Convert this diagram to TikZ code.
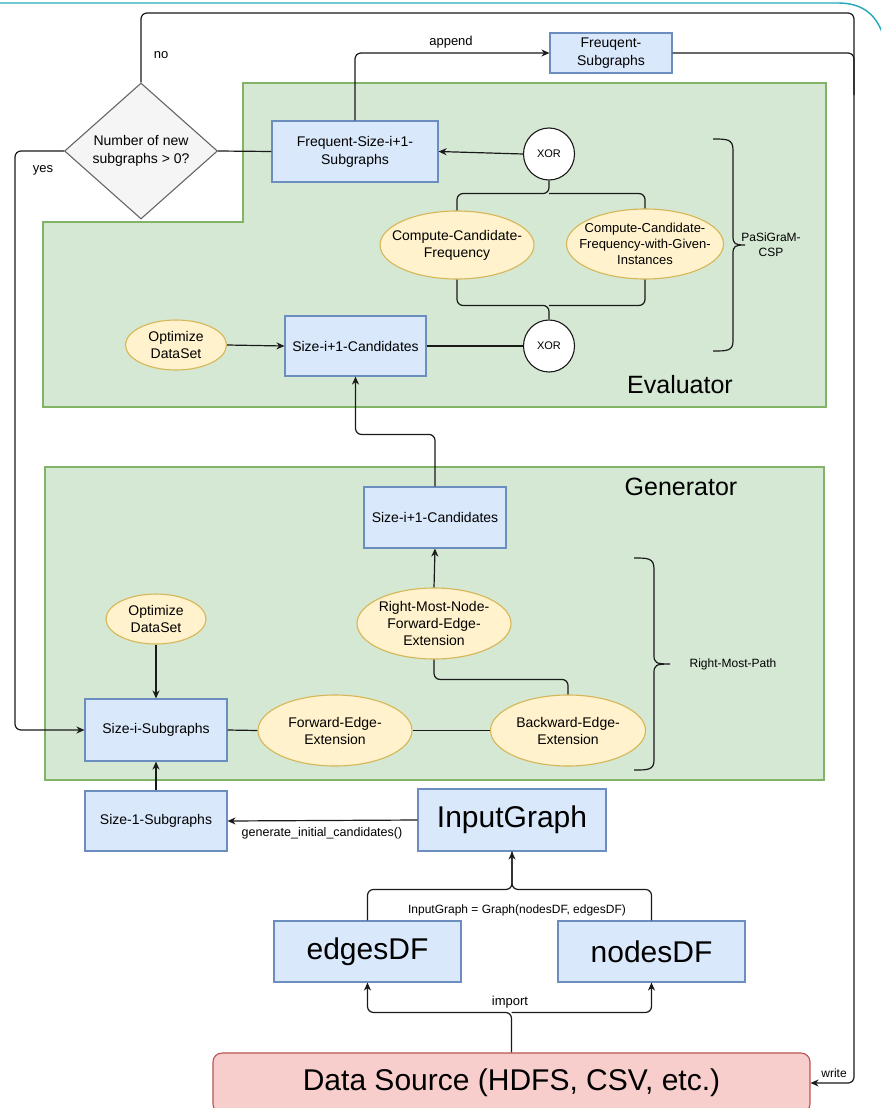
\documentclass[tikz,border=0pt]{standalone}
\usepackage{fontspec}
\setmainfont{Liberation Sans}
\usetikzlibrary{shapes.geometric,arrows.meta,calc}

\definecolor{bluefill}{HTML}{DAE8FC}
\definecolor{bluedraw}{HTML}{6C8EBF}
\definecolor{yelfill}{HTML}{FFF2CC}
\definecolor{yeldraw}{HTML}{D6B656}
\definecolor{grnfill}{HTML}{D5E8D4}
\definecolor{grndraw}{HTML}{82B366}
\definecolor{redfill}{HTML}{F8CECC}
\definecolor{reddraw}{HTML}{B85450}
\definecolor{grayfill}{HTML}{F5F5F5}
\definecolor{graydraw}{HTML}{666666}
\definecolor{tealline}{HTML}{22A9BA}
\definecolor{inkline}{HTML}{1A1A1A}

\tikzset{
  bluebox/.style={rectangle, draw=bluedraw, fill=bluefill, line width=1.1pt,
    inner sep=0pt, align=center, font=\fontsize{14}{18}\selectfont},
  % the ellipse keeps its given size: the negative inner sep stops the text from enlarging it
  yelell/.style={ellipse, draw=yeldraw, fill=yelfill, line width=1.1pt,
    inner xsep=-45pt, inner ysep=-30pt, align=center, font=\fontsize{14}{17}\selectfont},
  xorell/.style={ellipse, draw=inkline, fill=white, line width=1.1pt,
    inner sep=0pt, minimum width=51pt, minimum height=52pt,
    font=\fontsize{11}{13}\selectfont},
  region/.style={draw=grndraw, fill=grnfill, line width=1.1pt},
  link/.style={draw=inkline, line width=1.2pt, rounded corners=6pt},
  arr/.style={link, -{Stealth[length=8pt,width=7pt,inset=2.5pt]}},
  lbl/.style={inner sep=0pt, align=center, font=\fontsize{12.5}{15}\selectfont},
  brc/.style={draw=inkline, line width=1.2pt},
}

\begin{document}
\begin{tikzpicture}[x=1pt, y=-1pt]
\useasboundingbox (0,0) rectangle (881,1108);
\clip (0,0) rectangle (881,1108);
\fill[white] (0,0) rectangle (881,1108);

% window frame line along the top
\draw[tealline, line width=1.4pt] (-5,3) -- (838,3) .. controls (862,3) and (877,14) .. (884,38);

% stage regions
\path[region] (243,83) -- (826,83) -- (826,407) -- (43,407) -- (43,222) -- (243,222) -- cycle;
\path[region] (45,467) rectangle (824,780);
\node[lbl, font=\fontsize{25}{30}\selectfont] (evallbl) at (680,385) {Evaluator};
\node[lbl, font=\fontsize{25}{30}\selectfont] (genlbl) at (681,487) {Generator};

% decision
\node[diamond, draw=graydraw, fill=grayfill, line width=1.1pt, inner sep=0pt,
      minimum width=153pt, minimum height=136pt, align=center,
      font=\fontsize{14}{18}\selectfont] (dec) at (141,151) {Number of new\\subgraphs > 0?};

% evaluator
\node[bluebox, minimum width=166pt, minimum height=61pt] (fs1) at (355,151.5) {Frequent-Size-i+1-\\Subgraphs};
\node[bluebox, minimum width=122pt, minimum height=40pt] (fsg) at (611,53) {Freuqent-\\Subgraphs};
\node[xorell] (xor1) at (549,154) {XOR};
\node[xorell] (xor2) at (549,346) {XOR};
\node[yelell, minimum width=154pt, minimum height=68pt] (cc1) at (457,245) {Compute-Candidate-\\Frequency};
\node[yelell, minimum width=157pt, minimum height=70pt, font=\fontsize{13}{16}\selectfont] (cc2) at (645,244) {Compute-Candidate-\\Frequency-with-Given-\\Instances};
\node[bluebox, minimum width=141pt, minimum height=60pt] (si1c) at (355.5,346) {Size-i+1-Candidates};
\node[yelell, minimum width=101pt, minimum height=50pt] (opt1) at (176,345) {Optimize\\DataSet};
\node[lbl, font=\fontsize{12}{15}\selectfont] (csp) at (771,245) {PaSiGraM-\\CSP};

% generator
\node[bluebox, minimum width=142pt, minimum height=61pt] (si1g) at (435,517.5) {Size-i+1-Candidates};
\node[yelell, minimum width=154pt, minimum height=71pt] (rmn) at (434,623.5) {Right-Most-Node-\\Forward-Edge-\\Extension};
\node[yelell, minimum width=100pt, minimum height=50pt] (opt2) at (156,619) {Optimize\\DataSet};
\node[bluebox, minimum width=142pt, minimum height=62pt] (sizei) at (156,730) {Size-i-Subgraphs};
\node[yelell, minimum width=154pt, minimum height=71pt] (fee) at (335,730.5) {Forward-Edge-\\Extension};
\node[yelell, minimum width=155pt, minimum height=71pt] (bee) at (568,730.5) {Backward-Edge-\\Extension};
\node[lbl, font=\fontsize{12}{15}\selectfont] (rmp) at (733,664) {Right-Most-Path};

% input side
\node[bluebox, minimum width=142pt, minimum height=60pt] (s1) at (156,821) {Size-1-Subgraphs};
\node[bluebox, minimum width=188pt, minimum height=62pt, font=\fontsize{30}{36}\selectfont] (ig) at (512,820) {InputGraph};
\node[bluebox, minimum width=187pt, minimum height=61pt, font=\fontsize{30}{36}\selectfont] (edges) at (367.5,951.5) {edgesDF};
\node[bluebox, minimum width=187pt, minimum height=61pt, font=\fontsize{30}{36}\selectfont] (nodes) at (651.5,951.5) {nodesDF};
\node[rectangle, rounded corners=9pt, draw=reddraw, fill=redfill, line width=1.1pt,
      minimum width=597pt, minimum height=60pt, inner sep=0pt,
      font=\fontsize{30}{36}\selectfont] (ds) at (511.5,1083) {Data Source (HDFS, CSV, etc.)};

% turning points of the long loops
\coordinate (yesx) at (15,151);
\coordinate (topR) at (854,13);
\coordinate (mergeP) at (854,95);

% loop back (yes) and exit (no)
\draw[arr] (dec.west) -- (yesx) |- (sizei.west);
\node[lbl, font=\fontsize{13}{15}\selectfont] (yeslbl) at (43,170) {yes};
\draw[arr] (dec.north) |- (topR) |- (ds.east);
\node[lbl, font=\fontsize{13}{15}\selectfont] (nolbl) at (161,55) {no};
\node[lbl, font=\fontsize{12}{15}\selectfont] (writelbl) at (834,1073) {write};

% frequent subgraphs
\draw[link] (dec.east) -- (fs1.west);
\draw[arr] (fs1.north) |- (fsg.west);
\node[lbl, font=\fontsize{13}{15}\selectfont] (applbl) at (451,42) {append};
\draw[link] (fsg.east) -| (mergeP);
\draw[arr] (xor1.west) -- (fs1.east);

% alternative frequency computations
\draw[link] (xor1.south) -- ([yshift=-13pt]xor1.south) -| (cc1.north);
\draw[link] ([yshift=-13pt]xor1.south) -| (cc2.north);
\draw[link] (cc1.south) |- ([yshift=14pt]xor2.north) -- (xor2.north);
\draw[link] (cc2.south) |- ([yshift=14pt]xor2.north);
\draw[link] (si1c.east) -- (xor2.west);
\draw[arr] (opt1.east) -- (si1c.west);

% generator to evaluator
\draw[arr] (si1g.north) -- ++(0,-52) -| (si1c.south);
\draw[arr] (rmn.north) -- (si1g.south);
\draw[link] (bee.north) -- ++(0,-15) -| (rmn.south);
\draw[link] (sizei.east) -- (fee.west);
\draw[link] (fee.east) -- (bee.west);
\draw[arr] (opt2.south) -- (sizei.north);

% initial candidates
\draw[arr] (s1.north) -- (sizei.south);
\draw[arr] (ig.west) -- (s1.east);
\node[lbl] (genlbl2) at (322,833) {generate\_initial\_candidates()};

\draw[arr] (edges.north) -- ++(0,-31) -| (ig.south);
\draw[link] (nodes.north) -- ++(0,-31) -| (ig.south);
\node[lbl, font=\fontsize{12}{15}\selectfont] (buildlbl) at (517,910) {InputGraph = Graph(nodesDF, edgesDF)};

\draw[arr] (ds.north) -- ++(0,-40) -| (edges.south);
\draw[arr] ([yshift=40pt]ds.north) -| (nodes.south);
\node[lbl, font=\fontsize{13}{15}\selectfont] (implbl) at (510,1002) {import};

% grouping braces
\draw[brc] (713,139) .. controls (727,139) and (733,139) .. (733,150)
  -- (733,236) .. controls (733,244) and (735,245) .. (745,245)
  .. controls (735,245) and (733,246) .. (733,254)
  -- (733,341) .. controls (733,351) and (727,351) .. (713,351);
\draw[brc] (634,558) .. controls (648,558) and (654,558) .. (654,569)
  -- (654,655) .. controls (654,663) and (656,664) .. (670,664)
  .. controls (656,664) and (654,665) .. (654,673)
  -- (654,760) .. controls (654,770) and (648,770) .. (634,770);
\end{tikzpicture}
\end{document}
